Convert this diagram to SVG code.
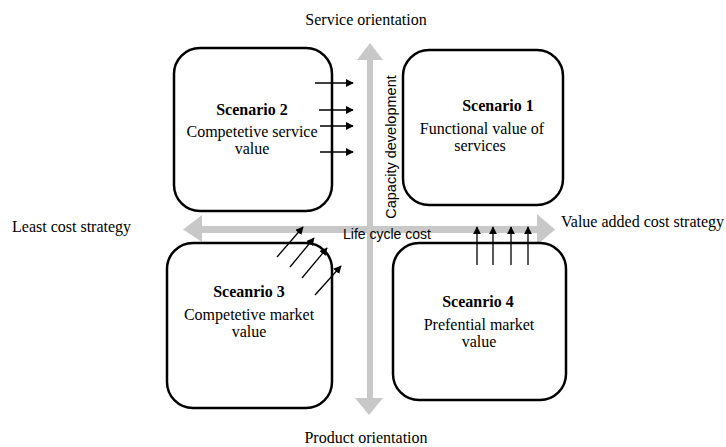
<svg xmlns="http://www.w3.org/2000/svg" width="726" height="447" viewBox="0 0 726 447">
<defs>
<style>
.box{fill:#fff;stroke:#000;stroke-width:2.5}
.lbl{font-family:"Liberation Serif",serif;font-size:16px;fill:#000}
.title{font-family:"Liberation Serif",serif;font-size:16px;font-weight:bold;fill:#000}
.sans{font-family:"Liberation Sans",sans-serif;fill:#000}
.axis{fill:#c8c8c8}
.arr{stroke:#000;stroke-width:1.3;fill:none;marker-end:url(#ah)}
</style>
<marker id="ah" viewBox="0 0 10 10" refX="9" refY="5" markerWidth="8" markerHeight="8" markerUnits="userSpaceOnUse" orient="auto">
<path d="M0,0 L10,5 L0,10 z" fill="#000"/>
</marker>
</defs>
<rect width="726" height="447" fill="#fff"/>
<g id="axes">
<path class="axis" d="M367,60 L357,60 L370,43 L383,60 L373,60 L373,398 L383,398 L369,415 L355,398 L367,398 z"/>
<path class="axis" d="M202,226 L202,215 L183,229.5 L202,242 L202,233 L537,233 L537,245 L555,229.5 L537,214 L537,226 z"/>
</g>
<g id="scenario2">
<rect class="box" x="174" y="48" width="158" height="163" rx="26"/>
<text class="title" x="252" y="115" text-anchor="middle">Scenario 2</text>
<text class="lbl" x="252" y="137" text-anchor="middle">Competetive service</text>
<text class="lbl" x="252" y="154" text-anchor="middle">value</text>
</g>
<g id="scenario1">
<rect class="box" x="403" y="50" width="160" height="155" rx="26"/>
<text class="title" x="498" y="111" text-anchor="middle">Scenario 1</text>
<text class="lbl" x="482" y="134" text-anchor="middle">Functional value of</text>
<text class="lbl" x="480" y="151" text-anchor="middle">services</text>
</g>
<g id="scenario3">
<rect class="box" x="167" y="243" width="165" height="165" rx="26"/>
<text class="title" x="249" y="297" text-anchor="middle">Sceanrio 3</text>
<text class="lbl" x="249" y="320" text-anchor="middle">Competetive market</text>
<text class="lbl" x="249" y="337" text-anchor="middle">value</text>
</g>
<g id="scenario4">
<rect class="box" x="393" y="243" width="173" height="157" rx="26"/>
<text class="title" x="478" y="307" text-anchor="middle">Sceanrio 4</text>
<text class="lbl" x="479" y="330" text-anchor="middle">Prefential market</text>
<text class="lbl" x="479" y="347" text-anchor="middle">value</text>
</g>
<g id="connectors">
<line class="arr" x1="315" y1="83" x2="353" y2="83"/>
<line class="arr" x1="319" y1="110" x2="353" y2="110"/>
<line class="arr" x1="320" y1="126" x2="353" y2="126"/>
<line class="arr" x1="320" y1="152" x2="353" y2="152"/>
<line class="arr" x1="477" y1="265" x2="477" y2="227"/>
<line class="arr" x1="493" y1="265" x2="493" y2="227"/>
<line class="arr" x1="511" y1="265" x2="511" y2="227"/>
<line class="arr" x1="528" y1="265" x2="528" y2="227"/>
<line class="arr" x1="277" y1="257" x2="303" y2="227"/>
<line class="arr" x1="290" y1="267" x2="314" y2="238"/>
<line class="arr" x1="302" y1="278" x2="327" y2="248"/>
<line class="arr" x1="315" y1="295" x2="341" y2="266"/>
</g>
<g id="labels">
<text class="lbl" x="366" y="25" text-anchor="middle">Service orientation</text>
<text class="lbl" x="366" y="443" text-anchor="middle">Product orientation</text>
<text class="lbl" x="12" y="232">Least cost strategy</text>
<text class="lbl" x="561" y="227">Value added cost strategy</text>
<text class="sans" font-size="14" x="343" y="239">Life cycle cost</text>
<text class="sans" font-size="14.5" transform="translate(396,147) rotate(-90)" text-anchor="middle">Capacity development</text>
</g>
</svg>
